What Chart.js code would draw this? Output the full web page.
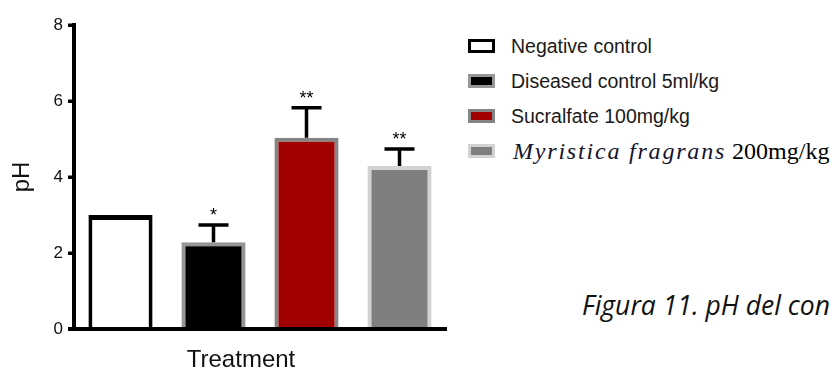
<!DOCTYPE html>
<html>
<head>
<meta charset="utf-8">
<script src="https://cdn.jsdelivr.net/npm/chart.js@4/dist/chart.umd.min.js"></script>
<style>
  html, body { margin:0; padding:0; background:#fff; width:834px; height:374px; overflow:hidden; }
  #wrap { position:absolute; left:0; top:0; width:460px; height:374px; }
  .box { position:absolute; left:468px; width:27px; height:14px; box-sizing:border-box; }
  .lt { position:absolute; left:511px; white-space:nowrap; font-family:"Liberation Sans", Arial, sans-serif; font-size:19.5px; line-height:24px; color:#1a1a1a; }
  .lt.serif { left:513px; font-family:"Liberation Serif", "Times New Roman", serif; font-size:24px; line-height:28px; color:#000; }
  .lt.serif i { color:#14142e; letter-spacing:1.8px; }
  #xtitle { position:absolute; left:241px; top:345px; transform:translateX(-50%); font-family:"Liberation Sans", Arial, sans-serif; font-size:24px; line-height:28px; color:#111; white-space:nowrap; }
  #caption { position:absolute; left:582px; top:290px; font-family:"Open Sans", Lato, sans-serif; font-style:italic; font-size:26.5px; line-height:30px; color:#111; white-space:nowrap; }
</style>
</head>
<body>
<div id="wrap"><canvas id="c"></canvas></div>
<div id="legend"></div>
<div id="xtitle">Treatment</div>
<div id="caption">Figura 11. pH del con</div>
<script>
// ---- data ----
const categories = ['Negative control', 'Diseased control 5ml/kg', 'Sucralfate 100mg/kg', 'Myristica fragrans 200mg/kg'];
const legendItalic = ['', '', '', 'Myristica fragrans'];
const phMeans = [3.0, 2.28, 5.03, 4.29];
const phErrors = [0, 0.46, 0.79, 0.45];
const significance = ['', '*', '**', '**'];
const yTicks = [0, 2, 4, 6, 8];
const xAxisTitle = 'Treatment';
const yAxisTitle = 'pH';

// ---- styles ----
const fillColors = ['#ffffff', '#000000', '#a00000', '#7f7f7f'];
const edgeColors = ['#000000', '#969696', '#858585', '#d2d2d2'];
const edgeWidths = [{top:5, left:4, right:4, bottom:0}, 4, 4, 4];

// legend (HTML)
const legend = document.getElementById('legend');
categories.forEach((name, i) => {
  const cy = 45.5 + 35.2 * i;
  const b = document.createElement('div');
  b.className = 'box';
  b.style.top = (cy - 7) + 'px';
  b.style.background = fillColors[i];
  b.style.border = '3px solid ' + edgeColors[i];
  legend.appendChild(b);
  const t = document.createElement('div');
  if (legendItalic[i]) {
    t.className = 'lt serif';
    t.style.top = (cy - 14) + 'px';
    const it = document.createElement('i');
    it.textContent = legendItalic[i];
    t.appendChild(it);
    t.appendChild(document.createTextNode(name.slice(legendItalic[i].length)));
  } else {
    t.className = 'lt';
    t.style.top = (cy - 12) + 'px';
    t.textContent = name;
  }
  legend.appendChild(t);
});
document.getElementById('xtitle').textContent = xAxisTitle;

// axis lines (drawn from the chart's own scale geometry)
const axisLinePlugin = {
  id: 'axisLines',
  afterDraw(chart) {
    const ctx = chart.ctx;
    const a = chart.chartArea;
    const y = chart.scales.y;
    ctx.save();
    ctx.strokeStyle = '#000';
    ctx.lineWidth = 4;
    ctx.beginPath();
    ctx.moveTo(a.left, y.getPixelForValue(yTicks[yTicks.length - 1]) - 1.5);
    ctx.lineTo(a.left, a.bottom);
    ctx.moveTo(a.left - 6, a.bottom);
    ctx.lineTo(a.right, a.bottom);
    ctx.stroke();
    ctx.lineWidth = 3;
    ctx.beginPath();
    yTicks.forEach(v => {
      const py = y.getPixelForValue(v);
      ctx.moveTo(a.left - 6, py);
      ctx.lineTo(a.left, py);
    });
    ctx.stroke();
    ctx.restore();
  }
};

const errorBarPlugin = {
  id: 'errorBars',
  afterDatasetsDraw(chart) {
    const ctx = chart.ctx;
    const y = chart.scales.y;
    const meta = chart.getDatasetMeta(0);
    ctx.save();
    ctx.strokeStyle = '#000';
    ctx.fillStyle = '#000';
    ctx.lineWidth = 3.5;
    meta.data.forEach((bar, i) => {
      const xc = bar.x;
      const err = phErrors[i];
      const yTop = y.getPixelForValue(phMeans[i] + err);
      if (err > 0) {
        const y0 = y.getPixelForValue(phMeans[i]);
        ctx.beginPath();
        ctx.moveTo(xc, y0);
        ctx.lineTo(xc, yTop);
        ctx.moveTo(xc - 15, yTop);
        ctx.lineTo(xc + 15, yTop);
        ctx.stroke();
      }
      if (significance[i]) {
        ctx.font = '18px "Liberation Sans", Arial, sans-serif';
        ctx.textAlign = 'center';
        ctx.textBaseline = 'alphabetic';
        ctx.fillText(significance[i], xc, yTop - 4);
      }
    });
    ctx.restore();
  }
};

new Chart(document.getElementById('c'), {
  type: 'bar',
  data: {
    labels: categories,
    datasets: [{
      data: phMeans,
      backgroundColor: fillColors,
      borderColor: edgeColors,
      borderWidth: edgeWidths,
      borderSkipped: 'start',
      barPercentage: 0.69,
      categoryPercentage: 1.0
    }]
  },
  options: {
    responsive: true,
    maintainAspectRatio: false,
    animation: false,
    devicePixelRatio: 1,
    layout: { padding: { left: 0, right: 14, top: 25, bottom: 45 } },
    plugins: { legend: { display: false }, tooltip: { enabled: false } },
    scales: {
      x: {
        ticks: { display: false },
        grid: { display: false },
        border: { display: true, color: '#000', width: 4 },
        afterFit(s) { s.height = 0; }
      },
      y: {
        min: 0, max: 8,
        afterBuildTicks(s) { s.ticks = yTicks.map(v => ({ value: v })); },
        ticks: {
          color: '#111',
          padding: 5,
          font: { family: '"Liberation Sans", Arial, sans-serif', size: 17 }
        },
        grid: { display: true, drawOnChartArea: false, drawTicks: true, tickLength: 6, lineWidth: 3, tickWidth: 3, color: '#000', tickColor: '#000' },
        border: { display: true, color: '#000', width: 4 },
        title: {
          display: true, text: yAxisTitle, color: '#111',
          font: { family: '"Liberation Sans", Arial, sans-serif', size: 24 },
          padding: { top: 8, bottom: 0 }
        },
        afterFit(s) { s.width = 74; }
      }
    }
  },
  plugins: [errorBarPlugin, axisLinePlugin]
});
</script>
</body>
</html>
